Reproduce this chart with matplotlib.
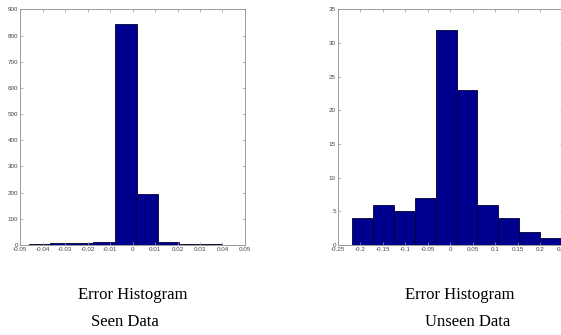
import numpy as np
import matplotlib.pyplot as plt

# histogram of errors, seen data
seen_centers = [-0.0413, -0.0317, -0.0222, -0.0126, -0.0030, 0.0065, 0.0161, 0.0256, 0.0352]
seen_counts = [3, 6, 7, 10, 843, 193, 10, 5, 3]
seen_width = 0.00957
seen_xticks = [-0.05, -0.04, -0.03, -0.02, -0.01, 0, 0.01, 0.02, 0.03, 0.04, 0.05]
seen_yticks = [0, 100, 200, 300, 400, 500, 600, 700, 800, 900]

# histogram of errors, unseen data
unseen_centers = [-0.1949, -0.1486, -0.1023, -0.0560, -0.0097, 0.0366, 0.0829, 0.1292, 0.1755, 0.2218]
unseen_counts = [4, 6, 5, 7, 32, 23, 6, 4, 2, 1]
unseen_width = 0.0463
unseen_xticks = [-0.25, -0.2, -0.15, -0.1, -0.05, 0, 0.05, 0.1, 0.15, 0.2, 0.25]
unseen_yticks = [0, 5, 10, 15, 20, 25, 30, 35]

tick_font = ['Liberation Sans Narrow', 'Liberation Sans', 'DejaVu Sans']

def fmt(v):
    s = ('%g' % v)
    return s

def style(ax, xticks, yticks, xlim, ylim):
    ax.set_xlim(xlim)
    ax.set_ylim(ylim)
    ax.set_xticks(xticks)
    ax.set_yticks(yticks)
    ax.set_xticklabels([fmt(v) for v in xticks], family=tick_font, fontsize=4.5, color='#444444')
    ax.set_yticklabels([fmt(v) for v in yticks], family=tick_font, fontsize=4.5, color='#444444')
    ax.tick_params(direction='in', length=2, width=0.5, color='#999999', pad=1.5,
                   top=True, right=True)
    for sp in ax.spines.values():
        sp.set_color('#999999')
        sp.set_linewidth(0.7)

fig = plt.figure(figsize=(5.61, 3.35), dpi=100)

ax1 = fig.add_axes([0.0357, 0.2687, 0.401, 0.703])
ax1.bar(seen_centers, seen_counts, width=seen_width, color='#00008f', edgecolor='#000033', linewidth=0.6)
style(ax1, seen_xticks, seen_yticks, (-0.05, 0.05), (0, 900))

ax2 = fig.add_axes([0.6025, 0.2687, 0.401, 0.703])
ax2.bar(unseen_centers, unseen_counts, width=unseen_width, color='#00008f', edgecolor='#000033', linewidth=0.6)
style(ax2, unseen_xticks, unseen_yticks, (-0.25, 0.25), (0, 35))

cap = dict(family=['Liberation Serif', 'DejaVu Serif'], fontsize=12, ha='center', va='center')
fig.text(133 / 561, 1 - 295 / 335, 'Error Histogram', **cap)
fig.text(125 / 561, 1 - 322 / 335, 'Seen Data', **cap)
fig.text(460 / 561, 1 - 295 / 335, 'Error Histogram', **cap)
fig.text(468 / 561, 1 - 322 / 335, 'Unseen Data', **cap)

fig.savefig('out.png', dpi=100)
